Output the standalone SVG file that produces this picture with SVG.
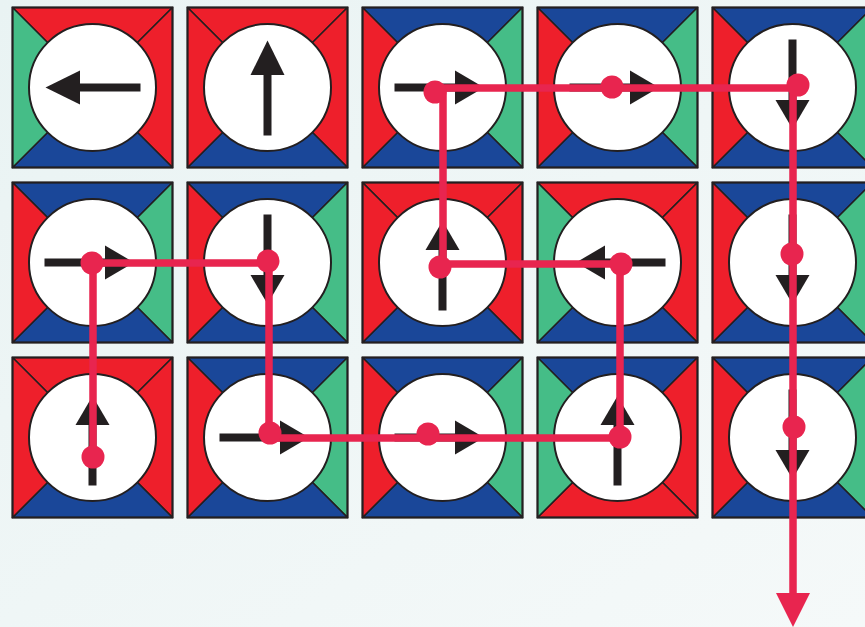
<svg xmlns="http://www.w3.org/2000/svg" xmlns:xlink="http://www.w3.org/1999/xlink" width="865" height="627" viewBox="0 0 865 627">
<defs>
<linearGradient id="bg" x1="0" y1="0" x2="1" y2="1">
<stop offset="0" stop-color="#E9F3F3"/>
<stop offset="1" stop-color="#F5F9F9"/>
</linearGradient>
<style>
.r{fill:#EE1F2B}
.b{fill:#1A4799}
.g{fill:#45BD87}
.r,.b,.g{stroke:#231F20;stroke-width:1.5;stroke-linejoin:round}
.frame{fill:none;stroke:#231F20;stroke-width:2}
.c{fill:#FFFFFF;stroke:#231F20;stroke-width:2}
.ar{fill:#231F20}
.path{fill:none;stroke:#E8254F;stroke-width:7.5;stroke-linejoin:miter}
.dot{fill:#E8254F}
</style>
<g id="arr" class="ar"><rect x="32" y="76" width="61" height="8"/><polygon points="92.5,63 92.5,97 121.5,80"/></g>
<g id="arrBig" class="ar"><rect x="32" y="76" width="61" height="8"/><polygon points="92.5,63 92.5,97 127,80"/></g>
</defs>
<rect width="865" height="627" fill="url(#bg)"/>

<!-- Row 0 -->
<g id="tile-r0c0" transform="translate(12.5,7.5)">
<path class="r" d="M0,0H160L80,80Z"/><path class="r" d="M160,0V160L80,80Z"/><path class="b" d="M0,160H160L80,80Z"/><path class="g" d="M0,0V160L80,80Z"/>
<rect class="frame" width="160" height="160"/><circle class="c" cx="80" cy="80" r="63.5"/>
<use href="#arrBig" transform="rotate(180 80 80)"/>
</g>
<g id="tile-r0c1" transform="translate(187.5,7.5)">
<path class="r" d="M0,0H160L80,80Z"/><path class="r" d="M160,0V160L80,80Z"/><path class="b" d="M0,160H160L80,80Z"/><path class="r" d="M0,0V160L80,80Z"/>
<rect class="frame" width="160" height="160"/><circle class="c" cx="80" cy="80" r="63.5"/>
<use href="#arrBig" transform="rotate(-90 80 80)"/>
</g>
<g id="tile-r0c2" transform="translate(362.5,7.5)">
<path class="b" d="M0,0H160L80,80Z"/><path class="g" d="M160,0V160L80,80Z"/><path class="b" d="M0,160H160L80,80Z"/><path class="r" d="M0,0V160L80,80Z"/>
<rect class="frame" width="160" height="160"/><circle class="c" cx="80" cy="80" r="63.5"/>
<use href="#arr"/>
</g>
<g id="tile-r0c3" transform="translate(537.5,7.5)">
<path class="b" d="M0,0H160L80,80Z"/><path class="g" d="M160,0V160L80,80Z"/><path class="b" d="M0,160H160L80,80Z"/><path class="r" d="M0,0V160L80,80Z"/>
<rect class="frame" width="160" height="160"/><circle class="c" cx="80" cy="80" r="63.5"/>
<use href="#arr"/>
</g>
<g id="tile-r0c4" transform="translate(712.5,7.5)">
<path class="b" d="M0,0H160L80,80Z"/><path class="g" d="M160,0V160L80,80Z"/><path class="b" d="M0,160H160L80,80Z"/><path class="r" d="M0,0V160L80,80Z"/>
<rect class="frame" width="160" height="160"/><circle class="c" cx="80" cy="80" r="63.5"/>
<use href="#arr" transform="rotate(90 80 80)"/>
</g>

<!-- Row 1 -->
<g id="tile-r1c0" transform="translate(12.5,182.5)">
<path class="b" d="M0,0H160L80,80Z"/><path class="g" d="M160,0V160L80,80Z"/><path class="b" d="M0,160H160L80,80Z"/><path class="r" d="M0,0V160L80,80Z"/>
<rect class="frame" width="160" height="160"/><circle class="c" cx="80" cy="80" r="63.5"/>
<use href="#arr"/>
</g>
<g id="tile-r1c1" transform="translate(187.5,182.5)">
<path class="b" d="M0,0H160L80,80Z"/><path class="g" d="M160,0V160L80,80Z"/><path class="b" d="M0,160H160L80,80Z"/><path class="r" d="M0,0V160L80,80Z"/>
<rect class="frame" width="160" height="160"/><circle class="c" cx="80" cy="80" r="63.5"/>
<use href="#arr" transform="rotate(90 80 80)"/>
</g>
<g id="tile-r1c2" transform="translate(362.5,182.5)">
<path class="r" d="M0,0H160L80,80Z"/><path class="r" d="M160,0V160L80,80Z"/><path class="b" d="M0,160H160L80,80Z"/><path class="r" d="M0,0V160L80,80Z"/>
<rect class="frame" width="160" height="160"/><circle class="c" cx="80" cy="80" r="63.5"/>
<use href="#arr" transform="rotate(-90 80 80)"/>
</g>
<g id="tile-r1c3" transform="translate(537.5,182.5)">
<path class="r" d="M0,0H160L80,80Z"/><path class="r" d="M160,0V160L80,80Z"/><path class="b" d="M0,160H160L80,80Z"/><path class="g" d="M0,0V160L80,80Z"/>
<rect class="frame" width="160" height="160"/><circle class="c" cx="80" cy="80" r="63.5"/>
<use href="#arr" transform="rotate(180 80 80)"/>
</g>
<g id="tile-r1c4" transform="translate(712.5,182.5)">
<path class="b" d="M0,0H160L80,80Z"/><path class="g" d="M160,0V160L80,80Z"/><path class="b" d="M0,160H160L80,80Z"/><path class="r" d="M0,0V160L80,80Z"/>
<rect class="frame" width="160" height="160"/><circle class="c" cx="80" cy="80" r="63.5"/>
<use href="#arr" transform="rotate(90 80 80)"/>
</g>

<!-- Row 2 -->
<g id="tile-r2c0" transform="translate(12.5,357.5)">
<path class="r" d="M0,0H160L80,80Z"/><path class="r" d="M160,0V160L80,80Z"/><path class="b" d="M0,160H160L80,80Z"/><path class="r" d="M0,0V160L80,80Z"/>
<rect class="frame" width="160" height="160"/><circle class="c" cx="80" cy="80" r="63.5"/>
<use href="#arr" transform="rotate(-90 80 80)"/>
</g>
<g id="tile-r2c1" transform="translate(187.5,357.5)">
<path class="b" d="M0,0H160L80,80Z"/><path class="g" d="M160,0V160L80,80Z"/><path class="b" d="M0,160H160L80,80Z"/><path class="r" d="M0,0V160L80,80Z"/>
<rect class="frame" width="160" height="160"/><circle class="c" cx="80" cy="80" r="63.5"/>
<use href="#arr"/>
</g>
<g id="tile-r2c2" transform="translate(362.5,357.5)">
<path class="b" d="M0,0H160L80,80Z"/><path class="g" d="M160,0V160L80,80Z"/><path class="b" d="M0,160H160L80,80Z"/><path class="r" d="M0,0V160L80,80Z"/>
<rect class="frame" width="160" height="160"/><circle class="c" cx="80" cy="80" r="63.5"/>
<use href="#arr"/>
</g>
<g id="tile-r2c3" transform="translate(537.5,357.5)">
<path class="b" d="M0,0H160L80,80Z"/><path class="r" d="M160,0V160L80,80Z"/><path class="r" d="M0,160H160L80,80Z"/><path class="g" d="M0,0V160L80,80Z"/>
<rect class="frame" width="160" height="160"/><circle class="c" cx="80" cy="80" r="63.5"/>
<use href="#arr" transform="rotate(-90 80 80)"/>
</g>
<g id="tile-r2c4" transform="translate(712.5,357.5)">
<path class="b" d="M0,0H160L80,80Z"/><path class="g" d="M160,0V160L80,80Z"/><path class="b" d="M0,160H160L80,80Z"/><path class="r" d="M0,0V160L80,80Z"/>
<rect class="frame" width="160" height="160"/><circle class="c" cx="80" cy="80" r="63.5"/>
<use href="#arr" transform="rotate(90 80 80)"/>
</g>

<g id="connectors">
<polyline class="path" points="93,457 93,263 269,263 269,438 620,438 620,264 443,264 443,88 793,88 793,598"/>
<polygon class="dot" points="776,593 810,593 793,627"/>
<circle class="dot" cx="93" cy="457" r="11.5"/>
<circle class="dot" cx="92" cy="263" r="11.5"/>
<circle class="dot" cx="268" cy="261" r="11.5"/>
<circle class="dot" cx="270" cy="433" r="11.5"/>
<circle class="dot" cx="428" cy="434" r="11.5"/>
<circle class="dot" cx="620" cy="437" r="11.5"/>
<circle class="dot" cx="621" cy="264" r="11.5"/>
<circle class="dot" cx="440" cy="267" r="11.5"/>
<circle class="dot" cx="435" cy="92" r="11.5"/>
<circle class="dot" cx="612" cy="87" r="11.5"/>
<circle class="dot" cx="798" cy="85" r="11.5"/>
<circle class="dot" cx="792" cy="254" r="11.5"/>
<circle class="dot" cx="794" cy="427" r="11.5"/>
</g>
</svg>
